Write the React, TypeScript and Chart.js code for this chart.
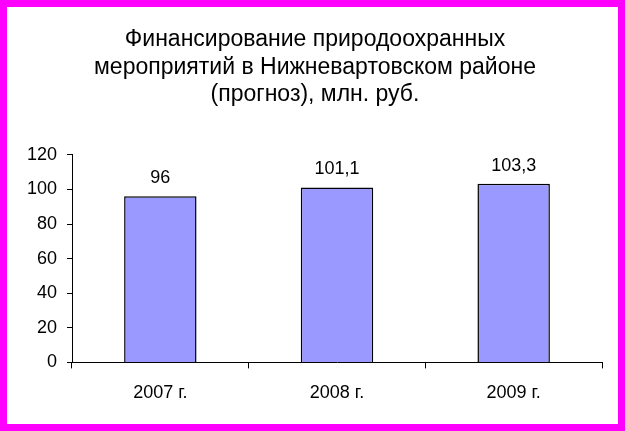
import React, { useEffect, useRef } from "react";
import { Chart, registerables } from "chart.js";

Chart.register(...registerables);

const categories = ["2007 г.", "2008 г.", "2009 г."];
const values = [96, 101.1, 103.3];
const titleLines = [
  "Финансирование природоохранных",
  "мероприятий в Нижневартовском районе",
  "(прогноз), млн. руб.",
];
const yMin = 0;
const yMax = 120;
const yStep = 20;

const FONT = "'Liberation Sans', Arial, sans-serif";

const valueLabels = {
  id: "valueLabels",
  afterDatasetsDraw(chart: any) {
    const ctx = chart.ctx;
    const meta = chart.getDatasetMeta(0);
    ctx.save();
    ctx.fillStyle = "#000";
    ctx.font = `18px ${FONT}`;
    ctx.textAlign = "center";
    ctx.textBaseline = "middle";
    meta.data.forEach((el: any, i: number) => {
      const v = chart.data.datasets[0].data[i];
      ctx.fillText(String(v).replace(".", ","), el.x, el.y - 18);
    });
    ctx.restore();
  },
};

export default function App() {
  const ref = useRef<HTMLCanvasElement>(null);
  useEffect(() => {
    if (!ref.current) return;
    const chart = new Chart(ref.current, {
      type: "bar",
      data: {
        labels: categories,
        datasets: [
          {
            data: values,
            backgroundColor: "#9999FF",
            borderColor: "#000000",
            borderWidth: 1.5,
            barPercentage: 0.41,
            categoryPercentage: 1,
          },
        ],
      },
      options: {
        animation: false,
        responsive: false,
        maintainAspectRatio: false,
        layout: { padding: { left: 21, right: 16, top: 0, bottom: 6 } },
        plugins: {
          legend: { display: false },
          tooltip: { enabled: false },
          title: {
            display: true,
            text: titleLines,
            color: "#000",
            font: { family: FONT, size: 23, weight: "normal", lineHeight: 1.2 },
            padding: { top: 19, bottom: 46 },
          },
        },
        scales: {
          x: {
            grid: {
              offset: true,
              drawOnChartArea: false,
              drawTicks: true,
              tickLength: 6,
              color: "#000",
            },
            border: { color: "#000", width: 1 },
            ticks: {
              color: "#000",
              font: { family: FONT, size: 18 },
              padding: 14,
            },
          },
          y: {
            min: yMin,
            max: yMax,
            afterFit: (scale: any) => {
              scale.width = 44;
            },
            grid: {
              drawOnChartArea: false,
              drawTicks: true,
              tickLength: 5,
              color: "#000",
            },
            border: { color: "#000", width: 1 },
            ticks: {
              stepSize: yStep,
              color: "#000",
              font: { family: FONT, size: 18 },
              padding: 10,
            },
          },
        },
      },
      plugins: [valueLabels],
    });
    return () => chart.destroy();
  }, []);

  return (
    <div
      style={{
        position: "fixed",
        left: 0,
        top: 0,
        width: 625,
        height: 431,
        boxSizing: "border-box",
        border: "7px solid #FF00FF",
        background: "#FFFFFF",
      }}
    >
      <canvas ref={ref} width={611} height={417} style={{ display: "block" }} />
    </div>
  );
}
